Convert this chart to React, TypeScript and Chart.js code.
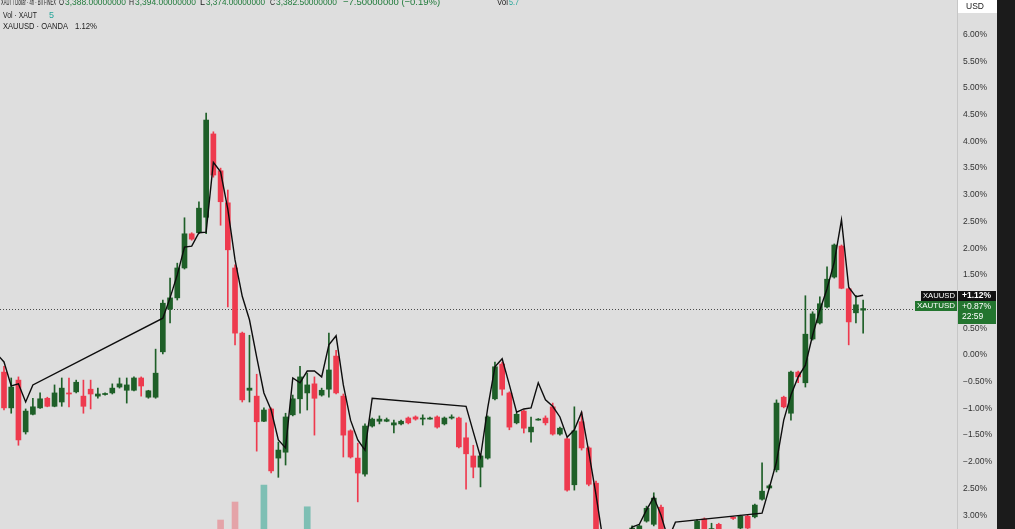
import React, { useEffect, useRef } from "react";
import { Chart, registerables } from "chart.js";

Chart.register(...registerables);

// XAUT/USD 4h candles, values in % change
const opens = [
  -0.32, -0.99, -0.47, -1.44, -1.11, -0.99, -0.81, -0.96, -0.88, -0.71,
  -0.69, -0.77, -0.64, -0.77, -0.74, -0.71, -0.60, -0.66, -0.66, -0.43,
  -0.79, -0.79, 0.06, 0.86, 1.07, 1.63, 2.27, 2.29, 2.58, 4.14,
  3.45, 2.85, 1.63, 0.41, -0.66, -0.77, -1.24, -1.01, -1.93, -1.82,
  -1.12, -0.82, -0.71, -0.54, -0.75, -0.64, -0.02, -0.77, -1.42, -1.93,
  -2.23, -1.33, -1.24, -1.24, -1.31, -1.29, -1.18, -1.16, -1.20, -1.20,
  -1.16, -1.29, -1.18, -1.18, -1.55, -1.89, -2.10, -1.93, -0.82, -0.17,
  -0.71, -1.27, -1.05, -1.44, -1.21, -1.18, -0.97, -1.48, -1.57, -2.43,
  -1.25, -1.74, -2.40, -3.56, -3.80, -3.62, -3.72, -3.45, -3.40, -3.11,
  -3.17, -2.85, -3.37, -3.60, -3.40, -3.35, -3.40, -3.07, -3.35, -3.17,
  -3.40, -3.04, -3.24, -3.02, -3.03, -2.70, -2.49, -2.15, -0.79, -1.09,
  -0.32, -0.52, 0.30, 0.60, 0.90, 1.46, 2.04, 1.24, 0.79, 0.84,
];
const highs = [
  -0.21, -0.43, -0.41, -1.01, -0.81, -0.71, -0.79, -0.56, -0.43, -0.43,
  -0.47, -0.47, -0.47, -0.62, -0.71, -0.54, -0.43, -0.43, -0.41, -0.41,
  -0.66, 0.11, 1.03, 1.44, 1.72, 2.57, 2.29, 2.87, 4.53, 4.18,
  3.50, 3.09, 1.69, 0.43, 0.37, -0.36, -0.99, -0.99, -1.63, -1.09,
  -0.75, -0.21, -0.34, -0.41, -0.62, 0.41, 0.09, -0.73, -1.40, -1.65,
  -1.29, -1.18, -1.14, -1.18, -1.22, -1.22, -1.16, -1.14, -1.12, -1.16,
  -1.14, -1.16, -1.12, -1.16, -1.27, -1.69, -1.87, -1.14, -0.13, -0.13,
  -0.69, -1.09, -1.03, -1.16, -1.19, -1.14, -0.90, -1.35, -1.55, -0.97,
  -1.07, -1.72, -2.36, -3.50, -3.55, -3.58, -3.40, -3.20, -3.18, -2.83,
  -2.58, -2.81, -3.35, -3.30, -3.28, -3.33, -3.08, -3.05, -3.15, -3.15,
  -3.28, -3.03, -3.00, -3.00, -2.79, -2.02, -2.43, -0.84, -0.77, -0.30,
  -0.30, 1.11, 0.81, 1.09, 1.65, 2.08, 2.06, 1.25, 1.12, 1.03,
];
const lows = [
  -1.03, -1.09, -1.69, -1.48, -1.12, -1.00, -0.97, -0.97, -0.96, -0.97,
  -0.71, -1.09, -1.01, -0.81, -0.75, -0.73, -0.62, -0.90, -0.67, -0.77,
  -0.81, -0.81, 0.02, 0.60, 1.03, 1.61, 2.15, 2.27, 2.27, 3.33,
  2.43, 0.90, 0.19, -0.88, -0.88, -1.80, -1.25, -2.21, -2.29, -2.06,
  -1.14, -1.09, -1.03, -1.50, -0.77, -0.79, -0.73, -1.91, -1.93, -2.75,
  -2.27, -1.35, -1.29, -1.25, -1.46, -1.31, -1.29, -1.22, -1.31, -1.20,
  -1.37, -1.31, -1.20, -1.74, -2.51, -2.30, -2.47, -1.95, -0.84, -0.75,
  -1.40, -1.29, -1.46, -1.63, -1.22, -1.31, -1.50, -1.50, -2.55, -2.53,
  -1.78, -2.45, -3.65, -3.85, -3.85, -3.78, -3.76, -3.50, -3.45, -3.13,
  -3.20, -3.47, -3.70, -3.65, -3.45, -3.50, -3.42, -3.40, -3.40, -3.40,
  -3.45, -3.08, -3.26, -3.28, -3.05, -2.72, -2.51, -2.19, -0.99, -1.22,
  -0.52, -0.60, 0.28, 0.58, 0.88, 1.44, 1.24, 0.19, 0.60, 0.41,
];
const closes = [
  -0.99, -0.60, -1.59, -1.05, -0.97, -0.82, -0.96, -0.71, -0.62, -0.73,
  -0.51, -0.96, -0.73, -0.73, -0.72, -0.62, -0.54, -0.56, -0.43, -0.58,
  -0.67, -0.34, 0.97, 1.07, 1.63, 2.27, 2.17, 2.75, 4.40, 3.37,
  2.87, 1.97, 0.41, -0.84, -0.62, -1.25, -1.03, -2.17, -1.78, -1.16,
  -0.82, -0.41, -0.56, -0.81, -0.66, -0.28, -0.71, -1.50, -1.91, -2.21,
  -1.33, -1.20, -1.20, -1.21, -1.27, -1.24, -1.27, -1.20, -1.18, -1.18,
  -1.35, -1.18, -1.16, -1.72, -1.85, -2.10, -1.89, -1.16, -0.22, -0.64,
  -1.35, -1.11, -1.37, -1.35, -1.20, -1.27, -1.48, -1.37, -2.53, -1.42,
  -1.74, -2.42, -3.56, -3.80, -3.60, -3.72, -3.45, -3.24, -3.20, -2.87,
  -2.68, -3.37, -3.60, -3.35, -3.30, -3.45, -3.11, -3.35, -3.25, -3.35,
  -3.30, -3.06, -3.02, -3.24, -2.81, -2.55, -2.45, -0.90, -0.97, -0.32,
  -0.41, 0.39, 0.77, 0.96, 1.42, 2.06, 1.25, 0.62, 0.94, 0.87,
];

// XAUUSD (OANDA) comparison line: bar index + % change
const xauIdx = [
  -1, 0, 1, 2, 3, 4, 22, 23, 24, 25, 26, 27, 28, 29, 30, 31, 32, 33, 34, 35,
  36, 37, 38, 39, 40, 41, 42, 43, 44, 45, 46, 47, 48, 49, 50, 51, 64, 65, 66,
  67, 68, 69, 70, 71, 72, 73, 74, 75, 76, 77, 78, 79, 80, 81, 82, 83, 84, 85,
  86, 87, 88, 89, 90, 91, 92, 93, 105, 106, 107, 108, 109, 110, 111, 112, 113,
  114, 115, 116, 117, 118, 119,
];
const xauPct = [
  0.02, -0.13, -0.58, -0.54, -0.88, -0.56, 0.69, 1.07, 1.5, 2.02, 2.04, 2.29,
  2.3, 3.61, 3.43, 2.73, 1.78, 1.1, 0.66, -0.04,
  -0.71, -1.03, -1.59, -1.74, -0.43, -0.52, -0.3, -0.3, -0.41, 0.19, 0.36,
  -0.56, -1.22, -1.59, -1.78, -0.81, -0.96, -1.44, -1.91,
  -0.99, -0.22, -0.07, -0.56, -1.07, -1.01, -0.99, -0.52, -0.84, -0.96, -1.16,
  -1.54, -1.4, -1.07, -1.82, -2.62, -3.5, -3.6, -3.7,
  -3.55, -3.22, -3.17, -2.9, -2.66, -3.0, -3.45, -3.13, -2.96, -2.49, -2.0,
  -1.22, -0.75, -0.41, -0.19, 0.37, 0.84,
  1.24, 1.74, 2.53, 1.27, 1.09, 1.12,
];

// Volume (only bars that rise into view)
const volIdx = [30, 32, 36, 42];
const volVal = [17, 51, 83, 42];

const tickValues = [6, 5.5, 5, 4.5, 4, 3.5, 3, 2.5, 2, 1.5, 1, 0.5, 0, -0.5, -1, -1.5, -2, -2.5, -3];
const tickLabels = [
  "6.00%", "5.50%", "5.00%", "4.50%", "4.00%", "3.50%", "3.00%", "2.50%", "2.00%",
  "1.50%", "1.00%", "0.50%", "0.00%", "−0.50%", "−1.00%", "−1.50%", "−2.00%", "2.50%", "3.00%",
];

const BG = "#dedede";
const GREEN = "#1e5f28";
const RED = "#ee3a4e";
const VOL_UP = "rgba(8,153,129,0.45)";
const VOL_DN = "rgba(242,54,69,0.35)";
const LABEL_GREEN = "#23752f";
const FONT = '"Liberation Sans", Arial, sans-serif';

function txt(
  ctx: CanvasRenderingContext2D,
  s: string,
  x: number,
  y: number,
  color: string,
  size: number,
  maxW?: number,
  align: CanvasTextAlign = "left",
  weight = "normal"
) {
  ctx.font = `${weight} ${size}px ${FONT}`;
  ctx.fillStyle = color;
  ctx.textAlign = align;
  ctx.textBaseline = "middle";
  if (maxW) ctx.fillText(s, x, y, maxW);
  else ctx.fillText(s, x, y);
}

const overlay = {
  id: "overlay",
  beforeDraw(chart: any) {
    const { ctx, width, height } = chart;
    ctx.save();
    ctx.fillStyle = BG;
    ctx.fillRect(0, 0, width, height);
    ctx.restore();
  },
  beforeDatasetsDraw(chart: any) {
    const { ctx, chartArea, scales } = chart;
    const y = Math.round(scales.y.getPixelForValue(closes[closes.length - 1])) + 0.5;
    ctx.save();
    ctx.strokeStyle = "#4a4a4a";
    ctx.lineWidth = 1;
    ctx.setLineDash([1, 2]);
    ctx.beginPath();
    ctx.moveTo(chartArea.left, y);
    ctx.lineTo(chartArea.right, y);
    ctx.stroke();
    ctx.restore();
  },
  afterDraw(chart: any) {
    const { ctx, chartArea, scales, width, height } = chart;
    const R = chartArea.right;
    ctx.save();
    // dark strip at far right
    ctx.fillStyle = "#1b1b1b";
    ctx.fillRect(R + 40, 0, width - (R + 40), height);
    // USD box
    ctx.fillStyle = "#ffffff";
    ctx.fillRect(R + 1, 0, 39, 13);
    txt(ctx, "USD", R + 9, 6.5, "#222", 8.5);

    // price labels
    const yU = Math.round(scales.y.getPixelForValue(xauPct[xauPct.length - 1]));
    const top = yU - 4;
    ctx.fillStyle = "#111111";
    ctx.fillRect(R - 36, top, 36, 10);
    ctx.fillRect(R + 1, top, 38, 10);
    txt(ctx, "XAUUSD", R - 18, top + 5, "#ffffff", 8, 32, "center");
    txt(ctx, "+1.12%", R + 5, top + 5, "#ffffff", 8.5, 30, "left", "bold");

    const t2 = top + 10;
    ctx.fillStyle = LABEL_GREEN;
    ctx.fillRect(R - 42, t2, 42, 10);
    ctx.fillRect(R + 1, t2, 38, 23);
    txt(ctx, "XAUTUSD", R - 21, t2 + 5, "#ffffff", 8, 38, "center");
    txt(ctx, "+0.87%", R + 5, t2 + 5.5, "#ffffff", 8.5, 30);
    txt(ctx, "22:59", R + 5, t2 + 16, "#ffffff", 8.5, 30);

    // top-left legend
    const dark = "#222222";
    const up = "#1f7a3a";
    txt(ctx, "XAUT / Dollar · 4h · BITFINEX", 1, 2, dark, 9.5, 55);
    const ohlc: [string, string, number, number][] = [
      ["O", "3,388.00000000", 59, 126],
      ["H", "3,394.00000000", 129, 196],
      ["L", "3,374.00000000", 200, 265],
      ["C", "3,382.50000000", 270, 337],
    ];
    ohlc.forEach(([k, v, a, b]) => {
      txt(ctx, k, a, 2, dark, 9.5, 5);
      txt(ctx, v, a + 6, 2, up, 9.5, b - a - 6);
    });
    txt(ctx, "−7.50000000 (−0.19%)", 343, 2, up, 9.5, 149);
    txt(ctx, "Vol", 497, 2, dark, 9.5, 11);
    txt(ctx, "5.7", 509, 2, "#26a69a", 9.5, 10);

    txt(ctx, "Vol · XAUT", 3, 15, dark, 9.5, 34);
    txt(ctx, "5", 49, 15, "#26a69a", 9.5, 5);
    txt(ctx, "XAUUSD · OANDA", 3, 26, dark, 9.5, 65);
    txt(ctx, "1.12%", 75, 26, dark, 9.5, 22);
    ctx.restore();
  },
};

export default function App() {
  const ref = useRef<HTMLCanvasElement | null>(null);

  useEffect(() => {
    if (!ref.current) return;
    const idx = opens.map((_, i) => i);
    const isUp = (i: number) => closes[i] >= opens[i];
    const chart = new Chart(ref.current, {
      type: "bar",
      data: {
        datasets: [
          {
            type: "line",
            data: xauIdx.map((x, i) => ({ x, y: xauPct[i] })),
            borderColor: "#0d0d0d",
            borderWidth: 1.4,
            pointRadius: 0,
            tension: 0,
            yAxisID: "y",
            order: 0,
          } as any,
          {
            type: "bar",
            data: idx.map((i) => ({ x: i, y: [opens[i], closes[i]] })),
            backgroundColor: idx.map((i) => (isUp(i) ? GREEN : RED)),
            barThickness: 5,
            minBarLength: 1,
            grouped: false,
            borderWidth: 0,
            yAxisID: "y",
            order: 1,
          } as any,
          {
            type: "bar",
            data: idx.map((i) => ({ x: i, y: [lows[i], highs[i]] })),
            backgroundColor: idx.map((i) => (isUp(i) ? GREEN : RED)),
            barThickness: 1,
            grouped: false,
            borderWidth: 0,
            yAxisID: "y",
            order: 2,
          } as any,
          {
            type: "bar",
            data: volIdx.map((x, i) => ({ x, y: volVal[i] })),
            backgroundColor: volIdx.map((x) => (isUp(x) ? VOL_UP : VOL_DN)),
            barThickness: 6,
            grouped: false,
            borderWidth: 0,
            yAxisID: "yv",
            order: 3,
          } as any,
        ],
      },
      options: {
        responsive: false,
        animation: false,
        devicePixelRatio: 1,
        events: [],
        layout: { padding: 0 },
        plugins: { legend: { display: false }, tooltip: { enabled: false } },
        scales: {
          x: {
            type: "linear",
            display: false,
            offset: false,
            min: -0.554,
            max: 132,
          },
          y: {
            type: "linear",
            position: "right",
            min: -3.258,
            max: 6.648,
            grid: { display: false, drawTicks: false },
            border: { display: true, color: "#c6c6c6" },
            afterFit: (s: any) => {
              s.width = 58;
              s.paddingTop = 0;
              s.paddingBottom = 0;
            },
            afterBuildTicks: (s: any) => {
              s.ticks = tickValues.map((v) => ({ value: v }));
            },
            ticks: {
              padding: 6,
              color: "#333333",
              autoSkip: false,
              crossAlign: "near",
              font: { size: 8.5, family: FONT },
              callback: (_v: any, i: number) => tickLabels[i],
            },
          },
          yv: {
            type: "linear",
            display: false,
            min: 0,
            max: 1000,
            afterFit: (s: any) => {
              s.paddingTop = 0;
              s.paddingBottom = 0;
            },
          },
        },
      } as any,
      plugins: [overlay],
    });
    return () => chart.destroy();
  }, []);

  return (
    <div style={{ position: "fixed", left: 0, top: 0, width: 1015, height: 529 }}>
      <canvas ref={ref} width={1015} height={529} style={{ display: "block" }} />
    </div>
  );
}
